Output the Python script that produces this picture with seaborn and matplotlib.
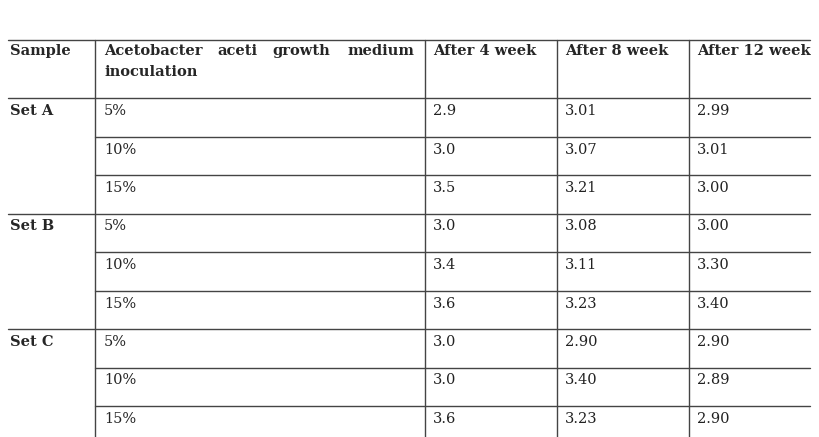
import matplotlib.pyplot as plt
import seaborn as sns

sns.set_style("white")
plt.rcParams['font.family'] = ['DejaVu Serif', 'Liberation Serif']

headers = ["Sample", "Acetobacter aceti growth medium inoculation",
           "After 4 week", "After 8 week", "After 12 week"]
sets = ["Set A", "Set B", "Set C"]
inoculation = ["5%", "10%", "15%"]
week4 = ["2.9", "3.0", "3.5", "3.0", "3.4", "3.6", "3.0", "3.0", "3.6"]
week8 = ["3.01", "3.07", "3.21", "3.08", "3.11", "3.23", "2.90", "3.40", "3.23"]
week12 = ["2.99", "3.01", "3.00", "3.00", "3.30", "3.40", "2.90", "2.89", "2.90"]

W, H = 820, 437
fig = plt.figure(figsize=(W / 100, H / 100), dpi=100)
ax = fig.add_axes([0, 0, 1, 1])
ax.set_xlim(0, W)
ax.set_ylim(H, 0)
ax.axis("off")

col_x = [8, 95, 425, 557, 689, 810]
top, head_bot, row_h = 40, 98, 38.5
lc, lw, fs = "#444444", 1.0, 10.5

# ─── grid lines ─────────────────────────────────────
ax.plot([col_x[0], col_x[-1]], [top, top], color=lc, lw=lw)
ax.plot([col_x[0], col_x[-1]], [head_bot, head_bot], color=lc, lw=lw)
for x in col_x[1:-1]:
    ax.plot([x, x], [top, H], color=lc, lw=lw)
for i in range(1, 9):
    y = head_bot + i * row_h
    x0 = col_x[0] if i % 3 == 0 else col_x[1]
    ax.plot([x0, col_x[-1]], [y, y], color=lc, lw=lw)

# ─── header ─────────────────────────────────────────
ax.text(10, 51, headers[0], fontsize=fs, fontweight="bold", va="center")
words = headers[1].split()
for w, x in zip(words[:3], [104, 217, 272]):
    ax.text(x, 51, w, fontsize=fs, fontweight="bold", va="center")
ax.text(414, 51, words[3], fontsize=fs, fontweight="bold", va="center", ha="right")
ax.text(104, 72, words[4], fontsize=fs, fontweight="bold", va="center")
for h, x in zip(headers[2:], col_x[2:5]):
    ax.text(x + 8, 51, h, fontsize=fs, fontweight="bold", va="center")

# ─── body ───────────────────────────────────────────
for s, name in enumerate(sets):
    ax.text(10, head_bot + s * 3 * row_h + 13, name, fontsize=fs,
            fontweight="bold", va="center")
for i in range(9):
    y = head_bot + i * row_h + 13
    ax.text(104, y, inoculation[i % 3], fontsize=fs, va="center")
    for vals, x in zip([week4, week8, week12], col_x[2:5]):
        ax.text(x + 8, y, vals[i], fontsize=fs, va="center", color="#222222")

fig.savefig("out.png", dpi=100)
